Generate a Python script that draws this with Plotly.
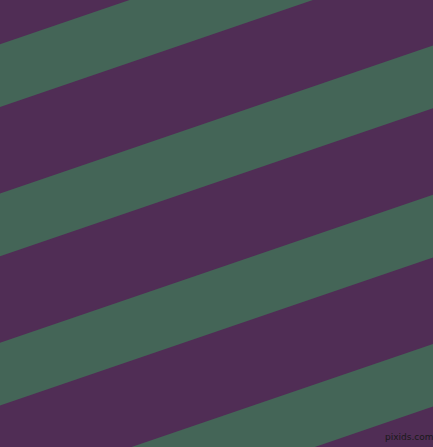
import plotly.graph_objects as go

# Stripe data (pixel units, y measured downward from top at x = 0)
stripe_tops = [44.3, 193.6, 342.8, 492.0]   # top edge of each green stripe at left edge
stripe_height = 62.7                         # vertical thickness of green stripe
stripe_slope = 0.342                         # rise per pixel to the right
width_px = 433
height_px = 447

purple = "#502D55"
green = "#446557"

fig = go.Figure()
for t in stripe_tops:
    xs = [0, width_px, width_px, 0, 0]
    ys = [t, t - stripe_slope * width_px,
          t + stripe_height - stripe_slope * width_px, t + stripe_height, t]
    fig.add_trace(go.Scatter(x=xs, y=ys, mode="lines", fill="toself",
                             fillcolor=green, line=dict(width=0, color=green),
                             hoverinfo="skip", showlegend=False))

fig.add_annotation(x=409, y=437, text="pixids.com", showarrow=False,
                   font=dict(family="DejaVu Sans", size=9, color="#1a1a1a"))

fig.update_xaxes(range=[0, width_px], visible=False, fixedrange=True)
fig.update_yaxes(range=[height_px, 0], visible=False, fixedrange=True)
fig.update_layout(width=width_px, height=height_px, autosize=False,
                  margin=dict(l=0, r=0, t=0, b=0),
                  plot_bgcolor=purple, paper_bgcolor=purple)
fig.write_html("out.html", config={"displayModeBar": False},
               post_script="document.body.style.margin='0';document.body.style.padding='0';document.body.style.overflow='hidden';")
